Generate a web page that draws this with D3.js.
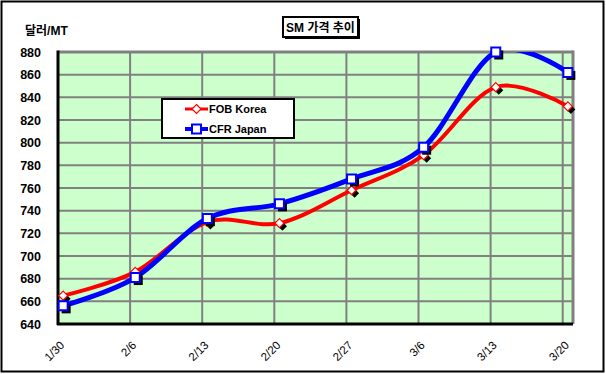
<!DOCTYPE html>
<html>
<head>
<meta charset="utf-8">
<script src="https://cdn.jsdelivr.net/npm/d3@7"></script>
<style>
  body { margin: 0; background: #fff; }
  text { font-family: "Liberation Sans", Arial, "Noto Sans CJK KR", sans-serif; font-weight: bold; }
</style>
</head>
<body>
<div id="chart"></div>
<script>
//Data
var dates = ["1/30", "2/6", "2/13", "2/20", "2/27", "3/6", "3/13", "3/20"];
var fobKorea = [665, 686, 730, 729, 758, 789, 849, 832];
var cfrJapan = [656, 681, 733, 746, 768, 796, 880, 862];
var yTicks = [640, 660, 680, 700, 720, 740, 760, 780, 800, 820, 840, 860, 880];

var parseDate = d3.timeParse("%m/%d");
var fmt = d3.timeFormat("%-m/%-d");

//Setup
var W = 606, H = 374;
var plot = { left: 58, right: 573, top: 52, bottom: 324 };
var halfDay = 12 * 3600 * 1000;

var x = d3.scaleTime()
    .domain([parseDate("1/30"), d3.timeDay.offset(parseDate("3/20"), 1)])
    .range([plot.left, plot.right]);
var y = d3.scaleLinear().domain([640, 880]).range([plot.bottom, plot.top]);

var svg = d3.select("#chart").append("svg")
    .attr("width", W).attr("height", H);

//outer border
svg.append("rect")
    .attr("x", 1.5).attr("y", 1.5).attr("width", 602).attr("height", 370)
    .attr("fill", "#fff").attr("stroke", "#000").attr("stroke-width", 2);

//plot background
svg.append("rect")
    .attr("x", plot.left).attr("y", plot.top)
    .attr("width", plot.right - plot.left).attr("height", plot.bottom - plot.top)
    .attr("fill", "#CCFFCC");

//horizontal gridlines
svg.append("g").selectAll("line")
    .data(yTicks.slice(1))
    .join("line")
    .attr("x1", plot.left).attr("x2", plot.right)
    .attr("y1", d => y(d)).attr("y2", d => y(d))
    .attr("stroke", "#808080")
    .attr("stroke-width", d => d == 880 ? 3 : 2);

//vertical gridlines
var tickDates = dates.map(parseDate);
svg.append("g").selectAll("line")
    .data(tickDates.slice(1))
    .join("line")
    .attr("x1", d => x(d)).attr("x2", d => x(d))
    .attr("y1", plot.top).attr("y2", plot.bottom)
    .attr("stroke", "#808080").attr("stroke-width", 2);
svg.append("line")
    .attr("x1", plot.right).attr("x2", plot.right)
    .attr("y1", plot.top - 1.5).attr("y2", plot.bottom)
    .attr("stroke", "#808080").attr("stroke-width", 3);

//axes lines
svg.append("line")
    .attr("x1", plot.left).attr("x2", plot.left)
    .attr("y1", plot.top - 1.5).attr("y2", plot.bottom + 1)
    .attr("stroke", "#000").attr("stroke-width", 3);
svg.append("line")
    .attr("x1", plot.left - 1).attr("x2", plot.right)
    .attr("y1", plot.bottom).attr("y2", plot.bottom)
    .attr("stroke", "#000").attr("stroke-width", 3);

//y tick labels
svg.append("g").selectAll("text")
    .data(yTicks)
    .join("text")
    .attr("x", 41).attr("y", d => y(d))
    .attr("dy", "0.36em")
    .attr("text-anchor", "end")
    .attr("font-size", 12.5)
    .text(d => d);

//x tick labels
svg.append("g").selectAll("text")
    .data(tickDates)
    .join("text")
    .attr("transform", d => `translate(${x(d) + 7}, 346) rotate(-45)`)
    .attr("text-anchor", "end")
    .attr("font-size", 11.5)
    .attr("font-weight", "normal")
    .attr("style", "font-weight:normal")
    .text(d => fmt(d));

//y axis title
svg.append("text")
    .attr("x", 25).attr("y", 35)
    .attr("font-size", 12)
    .text("달러/MT");

//series
var clip = svg.append("clipPath").attr("id", "plotClip")
    .append("rect")
    .attr("x", plot.left).attr("y", plot.top)
    .attr("width", plot.right - plot.left).attr("height", plot.bottom - plot.top);

function pts(values) {
    return values.map((v, i) => ({ date: new Date(+tickDates[i] + halfDay), value: v }));
}

var line = d3.line()
    .x(d => x(d.date))
    .y(d => y(d.value))
    .curve(d3.curveCardinal.tension(0));

var series = [
    { name: "FOB Korea", data: pts(fobKorea), color: "#FF0000", width: 4, shape: "diamond" },
    { name: "CFR Japan", data: pts(cfrJapan), color: "#0000FF", width: 5, shape: "square" }
];

series.forEach(s => {
    svg.append("path")
        .attr("clip-path", "url(#plotClip)")
        .attr("d", line(s.data))
        .attr("fill", "none")
        .attr("stroke", s.color)
        .attr("stroke-width", s.width);
});

function markerPath(shape) {
    if (shape == "diamond") return "M0,-4.5L4.5,0L0,4.5L-4.5,0Z";
    return "M-4.5,-4.5H4.5V4.5H-4.5Z";
}

series.forEach(s => {
    var g = svg.append("g");
    //shadows
    g.selectAll(".shadow")
        .data(s.data)
        .join("path")
        .attr("transform", d => `translate(${x(d.date) + 3}, ${y(d.value) + 3})`)
        .attr("d", markerPath(s.shape))
        .attr("fill", "#000");
    g.selectAll(".mark")
        .data(s.data)
        .join("path")
        .attr("transform", d => `translate(${x(d.date)}, ${y(d.value)})`)
        .attr("d", markerPath(s.shape))
        .attr("fill", "#fff")
        .attr("stroke", s.color)
        .attr("stroke-width", s.shape == "square" ? 2 : 1.2);
});

//title box
svg.append("rect")
    .attr("x", 285).attr("y", 19).attr("width", 75).attr("height", 20)
    .attr("fill", "#000");
svg.append("rect")
    .attr("x", 283).attr("y", 17).attr("width", 75).attr("height", 20)
    .attr("fill", "#fff").attr("stroke", "#000").attr("stroke-width", 2);
svg.append("text")
    .attr("x", 320.5).attr("y", 31.5)
    .attr("text-anchor", "middle")
    .attr("font-size", 12)
    .text("SM 가격 추이");

//legend
var legend = svg.append("g");
legend.append("rect")
    .attr("x", 162).attr("y", 99).attr("width", 132).attr("height", 39)
    .attr("fill", "#fff").attr("stroke", "#000").attr("stroke-width", 2);
series.forEach((s, i) => {
    var ly = 109 + i * 20;
    legend.append("line")
        .attr("x1", 185).attr("x2", 208).attr("y1", ly).attr("y2", ly)
        .attr("stroke", s.color).attr("stroke-width", s.width - 1);
    legend.append("path")
        .attr("transform", `translate(196.5, ${ly})`)
        .attr("d", markerPath(s.shape))
        .attr("fill", "#fff")
        .attr("stroke", s.color)
        .attr("stroke-width", s.shape == "square" ? 2 : 1.2);
    legend.append("text")
        .attr("x", 209).attr("y", ly)
        .attr("dy", "0.36em")
        .attr("font-size", 11)
        .text(s.name);
});
</script>
</body>
</html>
